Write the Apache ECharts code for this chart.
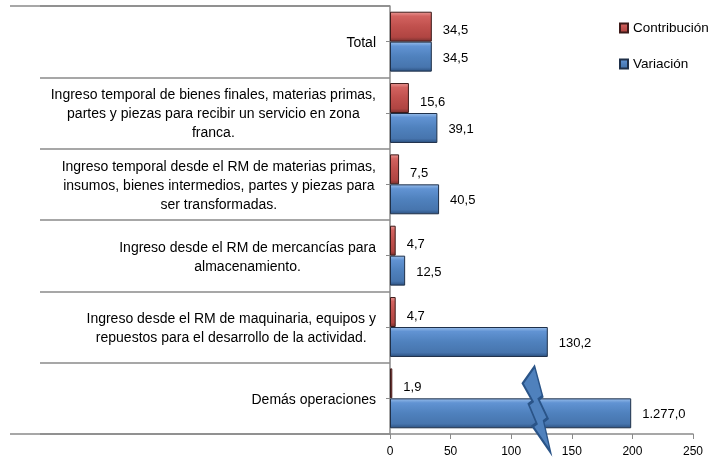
<!DOCTYPE html>
<html>
<head>
<meta charset="utf-8">
<script src="https://cdn.jsdelivr.net/npm/echarts@6/dist/echarts.min.js"></script>
<style>
  html, body { margin: 0; padding: 0; background: #fff; }
  #chart { width: 719px; height: 466px; }
</style>
</head>
<body>
<div id="chart"></div>
<script>
// categories, top to bottom
const categories = [
  'Total',
  'Ingreso temporal de bienes finales, materias primas,\npartes y piezas para recibir un servicio en zona\nfranca.',
  'Ingreso temporal desde el RM de materias primas,\ninsumos, bienes intermedios, partes y piezas para\nser transformadas.',
  'Ingreso desde el RM de mercancías para\nalmacenamiento.',
  'Ingreso desde el RM de maquinaria, equipos y\nrepuestos para el desarrollo de la actividad.',
  'Demás operaciones'
]
const contribucion = [34.5, 15.6, 7.5, 4.7, 4.7, 1.9]
const variacion = [34.5, 39.1, 40.5, 12.5, 130.2, 1277.0]
const xTicks = [0, 50, 100, 150, 200, 250]

// broken bar: values past the axis are drawn cut at this length, with a break mark
const cutAt = 199
const breakAt = 121
const variacionDrawn = variacion.map(v => Math.min(v, cutAt))

const font = "'Liberation Sans', Arial, sans-serif"
const grey = '#8a8a8a'

function fmt(v) {
  const parts = v.toFixed(1).split('.')
  return parts[0].replace(/\B(?=(\d{3})+(?!\d))/g, '.') + ',' + parts[1]
}

function bevel(light, mid, body, dark, deep) {
  return {
    type: 'linear', x: 0, y: 0, x2: 0, y2: 1,
    colorStops: [
      { offset: 0, color: light },
      { offset: 0.15, color: mid },
      { offset: 0.5, color: body },
      { offset: 0.85, color: dark },
      { offset: 1, color: deep }
    ]
  }
}

const myChart = echarts.init(document.getElementById('chart'))
myChart.setOption({
  animation: false,
  textStyle: { fontFamily: font },
  grid: { left: 390, right: 26, top: 6, bottom: 32 },
  legend: {
    orient: 'vertical',
    left: 614,
    top: 16,
    itemWidth: 8,
    itemHeight: 9,
    itemGap: 22,
    icon: 'rect',
    textStyle: { fontSize: 13.5, color: '#000', fontFamily: font },
    data: ['Contribución', 'Variación']
  },
  xAxis: {
    type: 'value',
    min: xTicks[0],
    max: xTicks[xTicks.length - 1],
    interval: xTicks[1] - xTicks[0],
    splitLine: { show: false },
    axisLine: { show: true, lineStyle: { color: grey, width: 1.5 } },
    axisTick: { show: true, length: 5, lineStyle: { color: grey } },
    axisLabel: { fontSize: 12, color: '#000', margin: 12, fontFamily: font }
  },
  yAxis: [
    {
      type: 'category',
      inverse: true,
      data: categories,
      axisLine: { show: true, lineStyle: { color: grey, width: 1.5 } },
      axisTick: { show: true, length: 350, lineStyle: { color: grey, width: 1.5 } },
      axisLabel: {
        margin: 14,
        align: 'right',
        fontSize: 14,
        lineHeight: 19,
        padding: [3, 0, 0, 0],
        color: '#000',
        fontFamily: font,
        formatter: v => v.split('\n').map(s => '{c|' + s + '}').join('\n'),
        rich: { c: { align: 'center', fontSize: 14, lineHeight: 19, color: '#000', fontFamily: font } }
      }
    },
    {
      type: 'category',
      inverse: true,
      data: categories,
      position: 'left',
      axisLine: { show: false },
      axisTick: { show: true, alignWithLabel: true, length: 4, lineStyle: { color: grey } },
      axisLabel: { show: false }
    },
    {
      type: 'value',
      min: 0, max: 1, interval: 1,
      position: 'left',
      axisLine: { show: false },
      splitLine: { show: false },
      axisTick: { show: true, length: 380, lineStyle: { color: grey, width: 1.5 } },
      axisLabel: { show: false }
    }
  ],
  series: [
    {
      name: 'Contribución',
      type: 'bar',
      yAxisIndex: 0,
      barGap: '0%',
      barCategoryGap: '16%',
      data: contribucion,
      itemStyle: {
        color: bevel('#eb9a97', '#d2625f', '#c0504d', '#b04542', '#75302e'),
        borderColor: '#3d1a19',
        borderWidth: 1
      },
      label: {
        show: true, position: 'right', distance: 11, offset: [0, 4],
        fontSize: 13, color: '#000', fontFamily: font,
        formatter: p => fmt(contribucion[p.dataIndex])
      }
    },
    {
      name: 'Variación',
      type: 'bar',
      yAxisIndex: 0,
      barGap: '0%',
      barCategoryGap: '16%',
      data: variacionDrawn,
      itemStyle: {
        color: bevel('#9cc0ec', '#6193d3', '#4f81bd', '#4775ae', '#2b4f7e'),
        borderColor: '#1f3049',
        borderWidth: 1
      },
      label: {
        show: true, position: 'right', distance: 11, offset: [0, 1.5],
        fontSize: 13, color: '#000', fontFamily: font,
        formatter: p => fmt(variacion[p.dataIndex])
      },
      markPoint: {
        silent: true,
        symbol: 'path://M12,0 L20,30 L16,33 L25,52 L21,55 L28,86 L10,60 L14,57 L6,38 L10,35 L0,17 Z',
        symbolSize: [28, 86],
        label: { show: false },
        itemStyle: { color: '#4f81bd', borderColor: '#2a5488', borderWidth: 2 },
        data: variacion
          .map((v, i) => v > cutAt ? { coord: [breakAt, categories[i]], symbolOffset: [0, -4] } : null)
          .filter(d => d)
      }
    }
  ]
})
</script>
</body>
</html>
